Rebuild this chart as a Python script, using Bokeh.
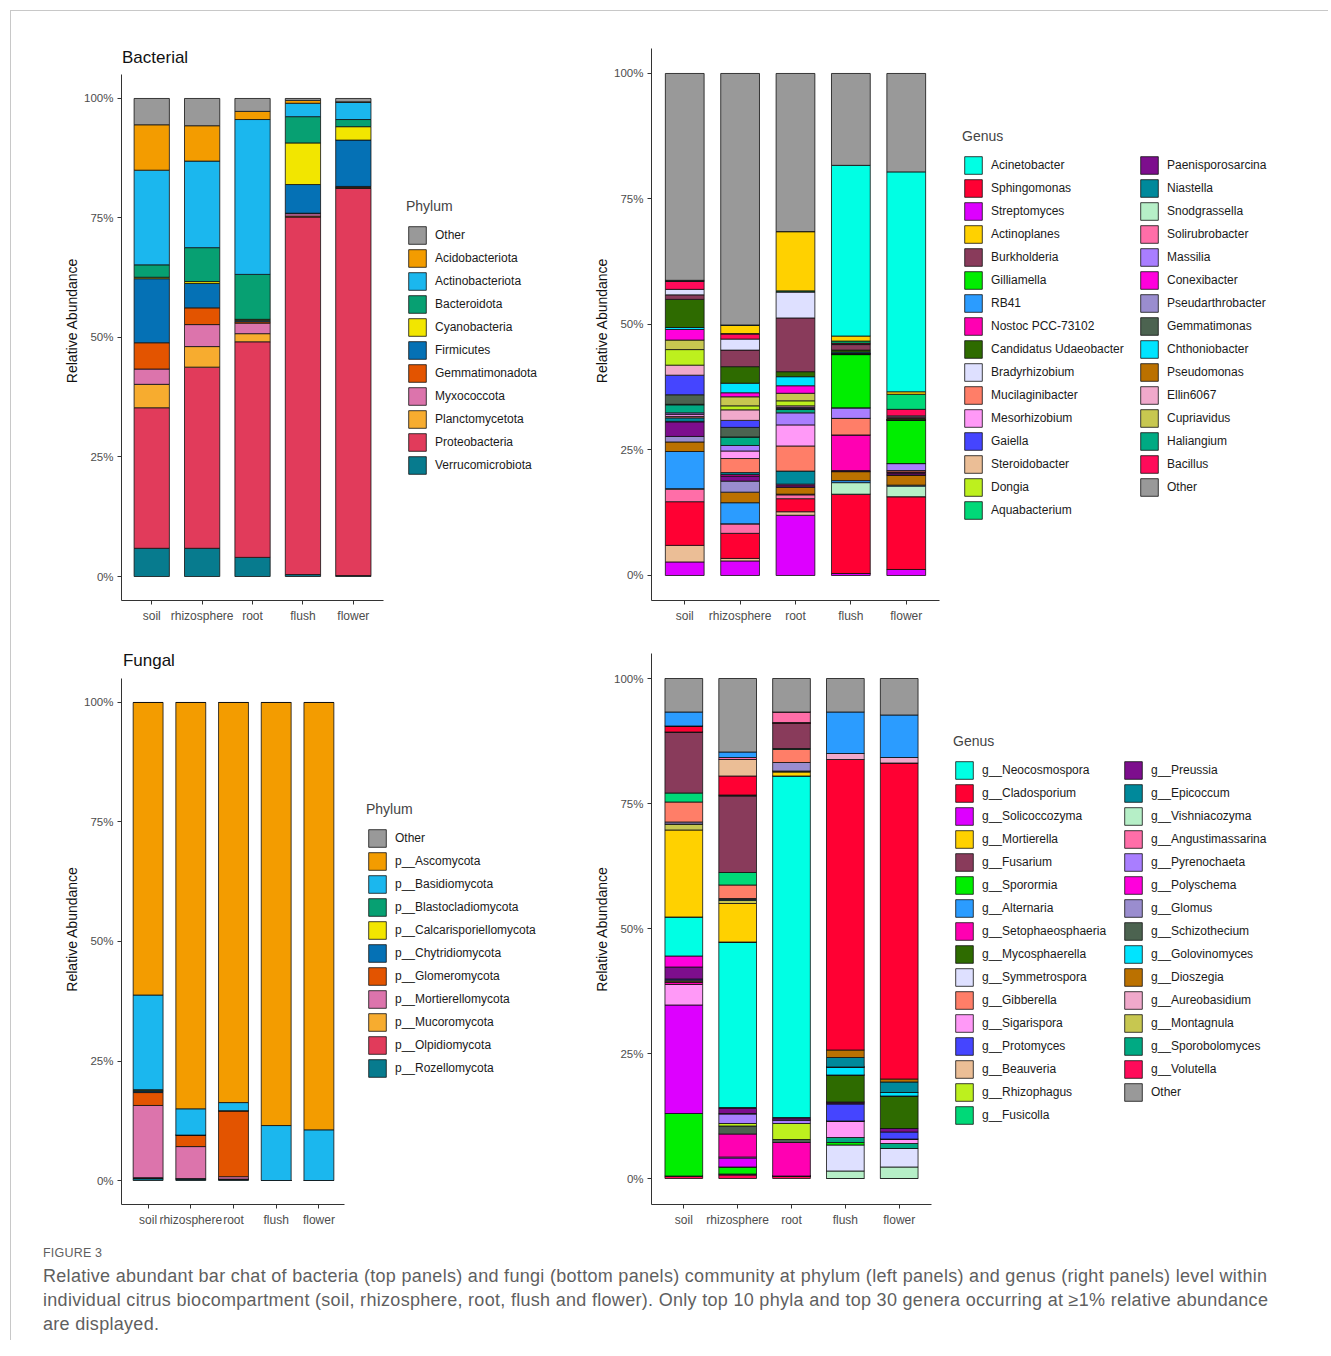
from bokeh.plotting import figure
from bokeh.models import Range1d, FixedTicker, Legend, LegendItem, ColumnDataSource, Div, Label
from bokeh.layouts import row, column
from bokeh.core.properties import value
from bokeh.embed import file_html
from bokeh.resources import INLINE

FONT = "Liberation Sans"

samples = ["soil", "rhizosphere", "root", "flush", "flower"]
pct_ticks = [0, 25, 50, 75, 100]
pct_labels = ["0%", "25%", "50%", "75%", "100%"]

# ---------------- Bacterial phylum (top -> bottom of each bar) ----------------
bact_phyla = ["Other", "Acidobacteriota", "Actinobacteriota", "Bacteroidota", "Cyanobacteria",
              "Firmicutes", "Gemmatimonadota", "Myxococcota", "Planctomycetota",
              "Proteobacteria", "Verrucomicrobiota"]
bact_phylum_soil = [5.5, 9.5, 19.8, 2.6, 0.3, 13.4, 5.5, 3.2, 4.9, 29.4, 5.9]
bact_phylum_rhizosphere = [5.7, 7.4, 18.1, 7.1, 0.4, 5.1, 3.5, 4.6, 4.3, 37.9, 5.9]
bact_phylum_root = [2.7, 1.7, 32.4, 9.4, 0.2, 0.3, 0.3, 2.2, 1.7, 45.1, 4.0]
bact_phylum_flush = [0.4, 0.6, 2.8, 5.5, 8.7, 6.0, 0.1, 0.5, 0.2, 74.8, 0.4]
bact_phylum_flower = [0.7, 0.1, 3.6, 1.5, 2.8, 9.7, 0.2, 0.1, 0.1, 81.0, 0.2]

# ---------------- Fungal phylum ----------------
fung_phyla = ["Other", "p__Ascomycota", "p__Basidiomycota", "p__Blastocladiomycota",
              "p__Calcarisporiellomycota", "p__Chytridiomycota", "p__Glomeromycota",
              "p__Mortierellomycota", "p__Mucoromycota", "p__Olpidiomycota", "p__Rozellomycota"]
fung_phylum_soil = [0.0, 61.2, 19.8, 0.1, 0.2, 0.3, 2.7, 15.1, 0.1, 0.1, 0.4]
fung_phylum_rhizosphere = [0.0, 85.0, 5.5, 0.0, 0.0, 0.0, 2.4, 6.7, 0.0, 0.1, 0.3]
fung_phylum_root = [0.0, 83.7, 1.7, 0.0, 0.0, 0.0, 13.8, 0.5, 0.0, 0.0, 0.3]
fung_phylum_flush = [0.0, 88.5, 11.5, 0.0, 0.0, 0.0, 0.0, 0.0, 0.0, 0.0, 0.0]
fung_phylum_flower = [0.0, 89.4, 10.6, 0.0, 0.0, 0.0, 0.0, 0.0, 0.0, 0.0, 0.0]

phylum_colors = ["#999999", "#F39C00", "#1BB7EE", "#07A072", "#F2E600", "#0571B5",
                 "#E35400", "#DC74AC", "#F7AC2F", "#E13B5B", "#077B8E"]

# ---------------- Bacterial genus (alphabetical stacking, Other on top) ----------------
bact_genera = ["Acinetobacter", "Actinoplanes", "Aquabacterium", "Bacillus", "Bradyrhizobium",
               "Burkholderia", "Candidatus Udaeobacter", "Chthoniobacter", "Conexibacter",
               "Cupriavidus", "Dongia", "Ellin6067", "Gaiella", "Gemmatimonas", "Gilliamella",
               "Haliangium", "Massilia", "Mesorhizobium", "Mucilaginibacter", "Niastella",
               "Nostoc PCC-73102", "Paenisporosarcina", "Pseudarthrobacter", "Pseudomonas",
               "RB41", "Snodgrassella", "Solirubrobacter", "Sphingomonas", "Steroidobacter",
               "Streptomyces", "Other"]
bact_genus_soil = [0.1, 0.0, 0.1, 1.6, 1.1, 0.9, 5.6, 0.4, 2.1, 1.9, 3.1, 2.0, 3.9, 1.9, 0.1,
                   1.6, 0.3, 0.4, 0.3, 0.7, 0.1, 2.9, 1.1, 1.9, 7.4, 0.1, 2.5, 8.7, 3.3, 2.7, 41.2]
bact_genus_rhizosphere = [0.1, 1.6, 0.1, 1.0, 2.2, 3.3, 3.3, 1.9, 0.8, 1.8, 0.8, 2.1, 1.4, 1.9, 0.0,
                          1.7, 1.1, 1.5, 2.8, 0.4, 0.3, 1.0, 2.2, 2.1, 4.2, 0.0, 1.9, 5.0, 0.5, 2.9, 50.1]
bact_genus_root = [0.0, 11.8, 0.2, 0.0, 5.2, 10.7, 1.0, 1.8, 1.5, 1.5, 1.0, 0.3, 0.2, 0.2, 0.0,
                   0.7, 2.4, 4.2, 5.0, 2.6, 0.3, 0.3, 0.0, 1.4, 0.1, 0.0, 0.8, 2.6, 0.7, 12.0, 31.5]
bact_genus_flush = [34.0, 1.0, 0.4, 0.2, 0.1, 1.1, 0.4, 0.2, 0.1, 0.0, 0.0, 0.1, 0.0, 0.1, 10.6,
                    0.0, 2.1, 0.0, 3.3, 0.0, 7.1, 0.2, 0.0, 1.8, 0.4, 2.3, 0.0, 15.8, 0.0, 0.4, 18.3]
bact_genus_flower = [43.8, 0.5, 3.0, 1.3, 0.2, 0.3, 0.3, 0.0, 0.0, 0.0, 0.0, 0.0, 0.0, 0.0, 8.7,
                     0.0, 1.4, 0.0, 0.3, 0.0, 0.3, 0.3, 0.0, 2.0, 0.2, 2.1, 0.0, 14.5, 0.0, 1.2, 19.6]
bact_genus_legend = ["Acinetobacter", "Sphingomonas", "Streptomyces", "Actinoplanes", "Burkholderia",
                     "Gilliamella", "RB41", "Nostoc PCC-73102", "Candidatus Udaeobacter",
                     "Bradyrhizobium", "Mucilaginibacter", "Mesorhizobium", "Gaiella",
                     "Steroidobacter", "Dongia", "Aquabacterium", "Paenisporosarcina", "Niastella",
                     "Snodgrassella", "Solirubrobacter", "Massilia", "Conexibacter",
                     "Pseudarthrobacter", "Gemmatimonas", "Chthoniobacter", "Pseudomonas",
                     "Ellin6067", "Cupriavidus", "Haliangium", "Bacillus", "Other"]

# ---------------- Fungal genus ----------------
fung_genera = ["g__Alternaria", "g__Angustimassarina", "g__Aureobasidium", "g__Beauveria",
               "g__Cladosporium", "g__Dioszegia", "g__Epicoccum", "g__Fusarium", "g__Fusicolla",
               "g__Gibberella", "g__Glomus", "g__Golovinomyces", "g__Montagnula", "g__Mortierella",
               "g__Mycosphaerella", "g__Neocosmospora", "g__Polyschema", "g__Preussia",
               "g__Protomyces", "g__Pyrenochaeta", "g__Rhizophagus", "g__Schizothecium",
               "g__Setophaeosphaeria", "g__Sigarispora", "g__Solicoccozyma", "g__Sporobolomyces",
               "g__Sporormia", "g__Symmetrospora", "g__Vishniacozyma", "g__Volutella", "Other"]
fung_genus_soil = [2.8, 0.0, 0.0, 0.0, 1.2, 0.0, 0.0, 12.2, 1.8, 4.0, 0.4, 0.0, 1.2, 17.4, 0.0,
                   7.8, 2.2, 2.4, 0.2, 0.2, 0.2, 0.0, 0.5, 4.1, 21.7, 0.0, 12.5, 0.0, 0.0, 0.5, 6.7]
fung_genus_rhizosphere = [1.1, 0.4, 0.0, 3.3, 3.8, 0.1, 0.1, 15.3, 2.5, 2.7, 0.2, 0.2, 0.6, 7.7, 0.1,
                          33.0, 0.2, 1.0, 0.1, 1.9, 0.5, 1.6, 4.6, 0.2, 1.8, 0.0, 1.4, 0.1, 0.1, 0.7, 14.7]
fung_genus_root = [0.0, 2.1, 0.0, 0.0, 0.2, 0.0, 0.0, 5.0, 0.2, 2.6, 1.7, 0.0, 0.2, 0.8, 0.0,
                   68.3, 0.1, 0.4, 0.0, 0.7, 3.2, 0.6, 6.7, 0.0, 0.0, 0.0, 0.0, 0.0, 0.0, 0.5, 6.7]
fung_genus_flush = [8.3, 0.0, 1.2, 0.0, 58.1, 1.5, 1.9, 0.0, 0.0, 0.0, 0.0, 1.6, 0.0, 0.0, 5.4,
                    0.0, 0.2, 0.2, 3.4, 0.0, 0.0, 0.0, 0.1, 3.2, 0.0, 1.0, 0.5, 5.2, 1.5, 0.0, 6.7]
fung_genus_flower = [8.5, 0.0, 1.1, 0.0, 63.2, 0.6, 2.1, 0.0, 0.0, 0.0, 0.0, 0.7, 0.0, 0.0, 6.5,
                     0.0, 0.0, 0.7, 1.4, 0.0, 0.0, 0.0, 0.0, 0.9, 0.0, 1.0, 0.0, 3.7, 2.3, 0.0, 7.3]
fung_genus_legend = ["g__Neocosmospora", "g__Cladosporium", "g__Solicoccozyma", "g__Mortierella",
                     "g__Fusarium", "g__Sporormia", "g__Alternaria", "g__Setophaeosphaeria",
                     "g__Mycosphaerella", "g__Symmetrospora", "g__Gibberella", "g__Sigarispora",
                     "g__Protomyces", "g__Beauveria", "g__Rhizophagus", "g__Fusicolla",
                     "g__Preussia", "g__Epicoccum", "g__Vishniacozyma", "g__Angustimassarina",
                     "g__Pyrenochaeta", "g__Polyschema", "g__Glomus", "g__Schizothecium",
                     "g__Golovinomyces", "g__Dioszegia", "g__Aureobasidium", "g__Montagnula",
                     "g__Sporobolomyces", "g__Volutella", "Other"]

genus_colors = ["#00FFE4", "#FF0033", "#DD00FF", "#FFD100", "#893B5B", "#00EE00", "#2B9CFF",
                "#FF00B2", "#2E6B00", "#DEE0FF", "#FF7E68", "#FF99F7", "#4545FF", "#EBBE96",
                "#BDF01E", "#00D978", "#7D0E8D", "#00899B", "#B6EFC7", "#FF6EA8", "#A97EFF",
                "#FF00DC", "#9A8DCF", "#4C6350", "#00E4FF", "#BB7100", "#F0A9CB", "#C7C750",
                "#00AA83", "#FF0B5A", "#999999"]


def make_panel(frame_w, frame_h, borders, xr, yr, title, title_y, taxa, sample_arrays,
               stack_order, legend_order, colors, legend_title, legend_loc, label_width, nrows):
    data = {"x": [i + 1 for i in range(len(samples))]}
    for j, t in enumerate(taxa):
        data[t] = [arr[j] for arr in sample_arrays]
    src = ColumnDataSource(data)
    color_of = dict(zip(legend_order, colors))
    left, right, top, bottom = borders
    p = figure(frame_width=frame_w, frame_height=frame_h,
               x_range=Range1d(*xr), y_range=Range1d(*yr),
               output_backend="svg", toolbar_location=None,
               min_border_left=left, min_border_right=right, min_border_top=top,
               min_border_bottom=bottom)
    rs = p.vbar_stack(stack_order, x="x", width=0.7, source=src,
                      fill_color=[color_of[t] for t in stack_order],
                      line_color="#111111", line_width=0.8)
    rmap = dict(zip(stack_order, rs))
    items = [LegendItem(label=value(t), renderers=[rmap[t]]) for t in legend_order]
    leg = Legend(items=items, location=legend_loc, title=legend_title,
                 glyph_width=22, glyph_height=22, label_height=22, label_width=label_width,
                 label_standoff=7, spacing=1, padding=0, margin=0,
                 border_line_color=None, background_fill_alpha=0,
                 title_text_font=FONT, title_text_font_size="14px",
                 title_text_font_style="normal", title_standoff=10,
                 label_text_font=FONT, label_text_font_size="12px", label_text_color="#1a1a1a",
                 nrows=nrows)
    p.add_layout(leg)

    p.outline_line_color = None
    p.xgrid.grid_line_color = None
    p.ygrid.grid_line_color = None
    p.xaxis.ticker = FixedTicker(ticks=data["x"])
    p.xaxis.major_label_overrides = {i + 1: s for i, s in enumerate(samples)}
    p.xaxis.bounds = (xr[0], 5.6)
    p.yaxis.ticker = FixedTicker(ticks=pct_ticks)
    p.yaxis.major_label_overrides = dict(zip(pct_ticks, pct_labels))
    p.yaxis.bounds = (yr[0], 105)
    p.yaxis.axis_label = "Relative Abundance"
    for ax in (p.xaxis, p.yaxis):
        ax.axis_line_color = "#333333"
        ax.axis_line_width = 1
        ax.major_tick_line_color = "#333333"
        ax.major_tick_out = 4
        ax.major_tick_in = 0
        ax.minor_tick_line_color = None
        ax.major_label_text_font = FONT
        ax.major_label_text_color = "#4d4d4d"
        ax.major_label_standoff = 4
    p.xaxis.major_label_text_font_size = "12px"
    p.yaxis.major_label_text_font_size = "11.5px"
    p.yaxis.axis_label_text_font = FONT
    p.yaxis.axis_label_text_font_size = "14px"
    p.yaxis.axis_label_text_font_style = "normal"
    p.yaxis.axis_label_text_color = "#111111"
    p.yaxis.axis_label_standoff = 1
    if title:
        p.add_layout(Label(x=0.41, y=title_y, text=title, text_font=FONT, text_font_size="17px",
                           text_color="#111111", text_baseline="middle", text_align="left"))
    return p


# top row: frames from y=40 to 600 (page), bottom row: 653 to 1204
p1 = make_panel(454, 560, (110, 5, 29, 40), (0.4, 0.4 + 454 / 50.4), (-5.02, 112.13),
                "Bacterial", 108.6, bact_phyla,
                [bact_phylum_soil, bact_phylum_rhizosphere, bact_phylum_root,
                 bact_phylum_flush, bact_phylum_flower],
                list(reversed(bact_phyla)), bact_phyla, phylum_colors, "Phylum",
                (285, 124), 20, 11)

p2 = make_panel(672, 560, (71, 5, 29, 40), (0.4, 0.4 + 672 / 55.38), (-4.98, 106.57),
                None, 0, bact_genera,
                [bact_genus_soil, bact_genus_rhizosphere, bact_genus_root,
                 bact_genus_flush, bact_genus_flower],
                list(reversed(bact_genera[:-1])) + ["Other"], bact_genus_legend, genus_colors,
                "Genus", (311, 79), 146, 16)

p3 = make_panel(454, 551, (110, 5, 13, 31), (0.377, 0.377 + 454 / 42.7), (-5.02, 110.25),
                "Fungal", 108.8, fung_phyla,
                [fung_phylum_soil, fung_phylum_rhizosphere, fung_phylum_root,
                 fung_phylum_flush, fung_phylum_flower],
                list(reversed(fung_phyla)), fung_phyla, phylum_colors, "Phylum",
                (245, 125), 20, 11)

p4 = make_panel(672, 551, (71, 5, 13, 31), (0.4, 0.4 + 672 / 53.85), (-5.2, 105.0),
                None, 0, fung_genera,
                [fung_genus_soil, fung_genus_rhizosphere, fung_genus_root,
                 fung_genus_flush, fung_genus_flower],
                list(reversed(fung_genera[:-1])) + ["Other"], fung_genus_legend, genus_colors,
                "Genus", (302, 78), 139, 16)

caption_html = (
    '<div style="font-family:\'Liberation Sans\',sans-serif;color:#5f5f5f;padding-left:32px;">'
    '<div style="margin-top:9px;line-height:18px;font-size:12.5px;letter-spacing:0.2px;">FIGURE 3</div>'
    '<div style="margin-top:2px;line-height:24px;font-size:18px;letter-spacing:0.3px;white-space:nowrap;">'
    'Relative abundant bar chat of bacteria (top panels) and fungi (bottom panels) community at '
    'phylum (left panels) and genus (right panels) level within<br>'
    'individual citrus biocompartment (soil, rhizosphere, root, flush and flower). Only top 10 '
    'phyla and top 30 genera occurring at \u22651% relative abundance<br>'
    'are displayed.</div></div>'
)
caption = Div(text=caption_html, width=1300, height=105, margin=0)

layout = column(row(p1, p2), row(p3, p4), caption, margin=(10, 0, 0, 10),
                styles={"border-top": "1px solid #c8c8c8", "border-left": "1px solid #c8c8c8"})

with open("out.html", "w") as f:
    f.write(file_html(layout, INLINE))
